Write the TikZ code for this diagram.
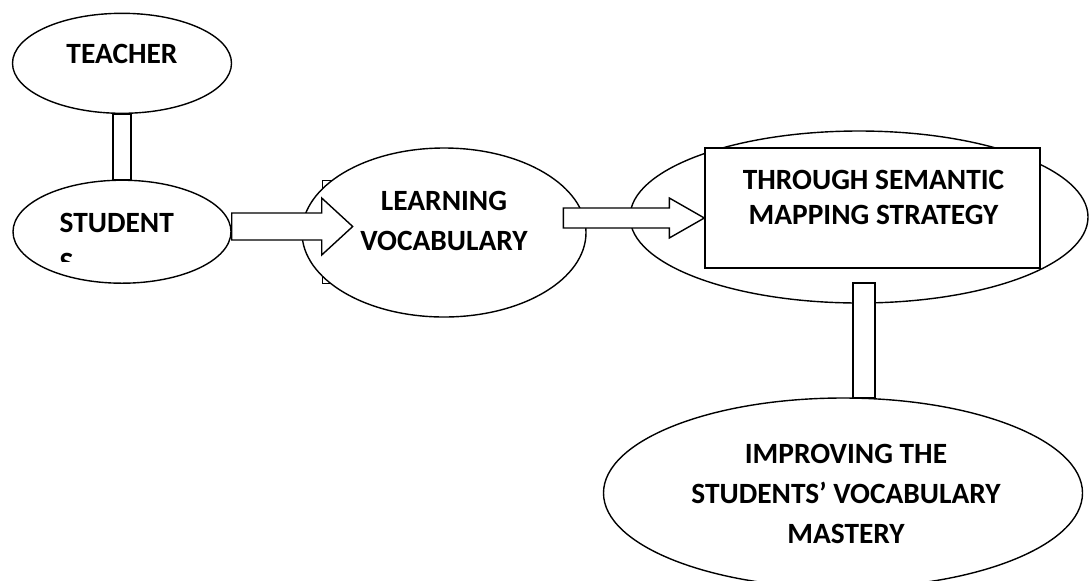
\documentclass[tikz,border=0pt]{standalone}
\usepackage{fontspec}
\setmainfont{Carlito}
\usetikzlibrary{shapes.geometric}

\begin{document}
\begin{tikzpicture}
[
    x=0.5pt, y=-0.5pt, line width=0.7pt,
    % The strategy is to place everything in pixel units, origin top left
    % Ovals are named after their text, bars and arrows join them
]

%=================================== Start ===================================
\tikzstyle{oval}     = [ellipse, draw, fill=white, inner sep=0pt]
\tikzstyle{box}      = [rectangle, draw, fill=white, inner sep=0pt]
\tikzstyle{bar}      = [draw, fill=white]
\tikzstyle{fatarrow} = [draw, fill=white, line join=miter]
\tikzstyle{txt}      = [inner sep=0pt, align=center,
                        font=\fontsize{14.7pt}{20pt}\selectfont\bfseries]

\useasboundingbox (0,0) rectangle (1090,580);
{
    % Left column: teacher above students
    \node[oval, minimum width=109.5pt, minimum height=50pt]  (teacher)  at (122,63.3)  {};
    \node[oval, minimum width=109pt,   minimum height=51.5pt] (students) at (122,231.7) {};

    % Stray text box that peeps out behind the learning oval
    \node[box, anchor=north west, minimum width=109pt, minimum height=51.5pt]
          (learning-box) at (322,180) {};
    \node[oval, minimum width=142pt, minimum height=84.5pt]  (learning) at (444,232.5) {};

    % Right oval with the strategy box on top of it
    \node[oval, minimum width=229pt, minimum height=86pt]    (through-oval) at (859,217) {};
    \node[box,  minimum width=167.5pt, minimum height=60pt]  (through)      at (872.5,208) {};

    % Result oval, cut off by the page edge
    \node[oval, minimum width=239.5pt, minimum height=95pt]  (improving) at (843,493) {};

    % Connect nodes
    \draw[bar] ([xshift=-4.5pt]teacher.south) rectangle ([xshift=4.5pt]students.north);

    \coordinate (bar-top) at (864,283);
    \draw[bar] ([xshift=-5.5pt]bar-top) rectangle ([xshift=5.5pt]bar-top |- improving.north);

    \coordinate (a1) at ([yshift=2.6pt]students.east);
    \draw[fatarrow] (a1) -- ++(0,-13.5) -- ++(90,0) -- ++(0,-15) -- ++(31,28.5)
                    -- ++(-31,28.5) -- ++(0,-15) -- ++(-90,0) -- cycle;

    \coordinate (a2) at (through.west |- 0,218);
    \draw[fatarrow] (a2) -- ++(-35,-20) -- ++(0,10) -- ++(-106,0) -- ++(0,20)
                    -- ++(106,0) -- ++(0,10) -- cycle;

    % Texts
    \node[txt] (teacher-txt) at (122,53.7) {TEACHER};
    \begin{scope}
        \clip (0,0) rectangle (1090,261);
        \node[txt, align=left, anchor=north west] (students-txt) at (59,212.7) {STUDENT\\S};
    \end{scope}
    \node[txt] (learning-txt) at (444,220.5) {LEARNING\\VOCABULARY};
    \node[txt, font=\fontsize{14.7pt}{17.5pt}\selectfont\bfseries]
          (through-txt) at (873.5,197.8) {THROUGH SEMANTIC\\MAPPING STRATEGY};
    \node[txt] (improving-txt) at (846,494) {IMPROVING THE\\STUDENTS’ VOCABULARY\\MASTERY};
}
%==================================== END ====================================

\end{tikzpicture}
\end{document}
